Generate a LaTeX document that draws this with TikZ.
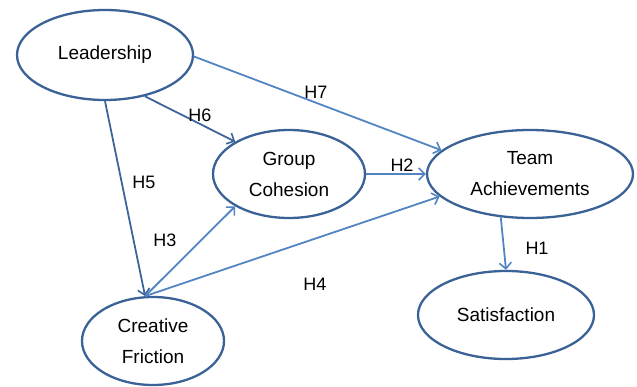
\documentclass[tikz,border=0pt]{standalone}
\usepackage{fontspec}
\setmainfont{Liberation Sans}
\usetikzlibrary{shapes.geometric,arrows.meta}
\definecolor{ellblue}{HTML}{3A6296}
\definecolor{darkarr}{HTML}{3D659C}
\definecolor{lightarr}{HTML}{5284C2}
\tikzset{
  ell/.style={ellipse, draw=ellblue, line width=2.3pt, inner sep=0pt, align=center,
    font=\fontsize{19}{31}\selectfont},
  arr/.style={line width=1.8pt, draw=lightarr, -{Straight Barb[length=6pt,width=12pt,line width=1.6pt]}},
  darr/.style={arr, draw=darkarr},
  hlab/.style={font=\fontsize{18}{20}\selectfont, text=black, inner sep=0pt}
}
\begin{document}
\begin{tikzpicture}[x=1pt,y=-1pt]
\useasboundingbox (0,0) rectangle (637,387);
\node[ell, minimum width=176pt, minimum height=90pt] (L) at (105,55) {Leadership};
\node[ell, minimum width=152pt, minimum height=88pt] (G) at (289,174) {Group\\Cohesion};
\node[ell, minimum width=206pt, minimum height=88pt] (T) at (530,174) {Team\\Achievements};
\node[ell, minimum width=176pt, minimum height=88pt] (S) at (506,315) {Satisfaction};
\node[ell, minimum width=142pt, minimum height=88pt] (C) at (153,341) {Creative\\Friction};

\draw[arr] (L.-1) -- (T.165);
\draw[darr] (L.-46) -- (G.149);
\draw[darr] (L.south) -- (C.100);
\draw[arr] (G.east) -- (T.west);
\draw[arr] (C.100) -- (G.211);
\draw[arr] (C.100) -- (T.194);
\draw[arr] (T.-124) -- (S.north);

\node[hlab] (h7) at (316,92) {H7};
\node[hlab] (h6) at (200,115) {H6};
\node[hlab] (h5) at (144,182) {H5};
\node[hlab] (h2) at (402,165) {H2};
\node[hlab] (h3) at (165,240) {H3};
\node[hlab] (h4) at (315,284) {H4};
\node[hlab] (h1) at (537,248) {H1};
\end{tikzpicture}
\end{document}
